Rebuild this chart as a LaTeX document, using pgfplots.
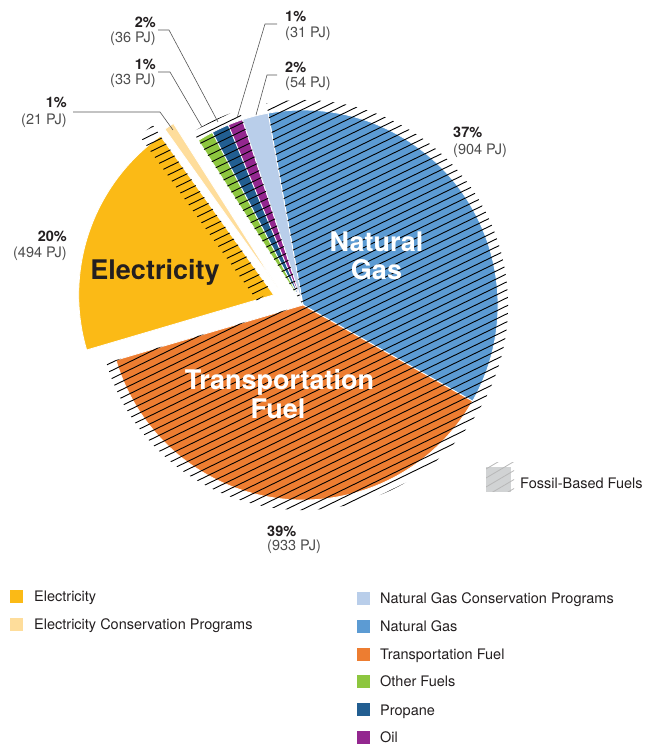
\documentclass[border=0pt]{standalone}
\usepackage{pgfplots}
\pgfplotsset{compat=1.18}
\usepackage{pgfplotstable}
\usepackage{fontspec}
\setmainfont{TeX Gyre Heros}

\definecolor{cEL}{HTML}{FBBA16}
\definecolor{cEC}{HTML}{FEDD9B}
\definecolor{cNC}{HTML}{B9CEEA}
\definecolor{cNG}{HTML}{5C9BD3}
\definecolor{cTR}{HTML}{ED7D31}
\definecolor{cOF}{HTML}{8DC63F}
\definecolor{cPR}{HTML}{225E91}
\definecolor{cOI}{HTML}{93278F}
\definecolor{cFS}{HTML}{D1D3D4}
\definecolor{txt}{HTML}{231F20}
\definecolor{sub}{HTML}{4D4D4D}
\definecolor{lead}{HTML}{555555}

% energy use in PJ, clockwise from the top
\pgfplotstableread{
name value
NaturalGas 904
Transportation 933
Electricity 494
ElecConservation 21
OtherFuels 33
Propane 36
Oil 31
NGConservation 54
}\piedata

\pgfplotstablegetelem{0}{value}\of\piedata \let\vNG\pgfplotsretval
\pgfplotstablegetelem{1}{value}\of\piedata \let\vTR\pgfplotsretval
\pgfplotstablegetelem{2}{value}\of\piedata \let\vEL\pgfplotsretval
\pgfplotstablegetelem{3}{value}\of\piedata \let\vEC\pgfplotsretval
\pgfplotstablegetelem{4}{value}\of\piedata \let\vOF\pgfplotsretval
\pgfplotstablegetelem{5}{value}\of\piedata \let\vPR\pgfplotsretval
\pgfplotstablegetelem{6}{value}\of\piedata \let\vOI\pgfplotsretval
\pgfplotstablegetelem{7}{value}\of\piedata \let\vNC\pgfplotsretval

\pgfmathsetmacro\total{\vNG+\vTR+\vEL+\vEC+\vOF+\vPR+\vOI+\vNC}
\pgfmathsetmacro\k{360/\total}
\pgfmathsetmacro\aNGs{100.3}
\pgfmathsetmacro\aNGe{\aNGs-\vNG*\k}
\pgfmathsetmacro\aTRe{\aNGe-\vTR*\k}
\pgfmathsetmacro\aELe{\aTRe-\vEL*\k}
\pgfmathsetmacro\aECe{\aELe-\vEC*\k}
\pgfmathsetmacro\aOFe{\aECe-\vOF*\k}
\pgfmathsetmacro\aPRe{\aOFe-\vPR*\k}
\pgfmathsetmacro\aOIe{\aPRe-\vOI*\k}
\pgfmathsetmacro\aNCe{\aOIe-\vNC*\k}
\pgfmathsetmacro\mEL{(\aTRe+\aELe)/2}
\pgfmathsetmacro\Ex{303+31*cos(\mEL)}
\pgfmathsetmacro\Ey{440+31*sin(\mEL)}
\def\R{195pt}
\def\RH{205pt}

\newcommand\lbl{\fontsize{14.5}{17}\selectfont}
\newcommand\inlbl{\fontsize{27}{29}\selectfont\bfseries}

\begin{document}
\begin{tikzpicture}
\begin{axis}[width=647pt,height=745pt,scale only axis,
  xmin=0,xmax=647,ymin=0,ymax=745,hide axis,clip=false]
\coordinate (SW) at (axis cs:0,0);
\coordinate (NE) at (axis cs:647,745);
% slices
\tikzset{sl/.style={draw=white,line width=0.8pt}}
\fill[cNG,sl] (axis cs:303,440) -- ++(\aNGe:\R) arc[start angle=\aNGe,end angle=\aNGs,radius=\R] -- cycle;
\fill[cTR,sl] (axis cs:303,440) -- ++(\aTRe:\R) arc[start angle=\aTRe,end angle=\aNGe,radius=\R] -- cycle;
\fill[cEL,sl] (axis cs:\Ex,\Ey) -- ++(\aELe:\R) arc[start angle=\aELe,end angle=\aTRe,radius=\R] -- cycle;
\fill[cEC,sl] (axis cs:278,457) -- ++(\aECe:\R) arc[start angle=\aECe,end angle=\aELe,radius=\R] -- cycle;
\fill[cOF,sl] (axis cs:303,440) -- ++(\aOFe:\R) arc[start angle=\aOFe,end angle=\aECe,radius=\R] -- cycle;
\fill[cPR,sl] (axis cs:303,440) -- ++(\aPRe:\R) arc[start angle=\aPRe,end angle=\aOFe,radius=\R] -- cycle;
\fill[cOI,sl] (axis cs:303,440) -- ++(\aOIe:\R) arc[start angle=\aOIe,end angle=\aPRe,radius=\R] -- cycle;
\fill[cNC,sl] (axis cs:303,440) -- ++(\aNCe:\R) arc[start angle=\aNCe,end angle=\aOIe,radius=\R] -- cycle;
% fossil hatching
\begin{scope}
\clip (axis cs:303,440) -- ++(\aTRe:\RH) arc[start angle=\aTRe,end angle=\aNGs,radius=\RH] -- cycle
      (axis cs:303,440) -- ++(\aOIe:\RH) arc[start angle=\aOIe,end angle=\aECe,radius=\RH] -- cycle
      (axis cs:\Ex,\Ey) ++(\aELe:5pt) -- ++(\aELe:203pt) -- ++(\aELe+90:17pt) -- ++(\aELe:-203pt) -- cycle;
\pgfplotsinvokeforeach{-120,-112,...,680}{
  \draw[black,line width=0.9pt] (axis cs:0,#1) -- (axis cs:647,#1+315.5);
}
\end{scope}
% inner labels
\node[white,font=\inlbl,anchor=base,inner sep=0] at (axis cs:376.5,493) {Natural};
\node[white,font=\inlbl,anchor=base,inner sep=0] at (axis cs:376.5,465) {Gas};
\node[white,font=\inlbl,anchor=base,inner sep=0] at (axis cs:279.5,355) {Transportation};
\node[white,font=\inlbl,anchor=base,inner sep=0] at (axis cs:278,326) {Fuel};
\node[txt,font=\inlbl,anchor=base,inner sep=0] at (axis cs:155,465) {Electricity};
% outer labels
\tikzset{pc/.style={txt,inner sep=0,font=\lbl\bfseries},pj/.style={sub,inner sep=0,font=\lbl}}
\node[pc,anchor=base east] at (axis cs:156,717) {2\%};
\node[pj,anchor=base east] at (axis cs:156,702) {(36 PJ)};
\node[pc,anchor=base east] at (axis cs:156,675) {1\%};
\node[pj,anchor=base east] at (axis cs:156,660) {(33 PJ)};
\node[pc,anchor=base east] at (axis cs:67,637) {1\%};
\node[pj,anchor=base east] at (axis cs:67,620) {(21 PJ)};
\node[pc,anchor=base west] at (axis cs:285,723) {1\%};
\node[pj,anchor=base west] at (axis cs:285,707) {(31 PJ)};
\node[pc,anchor=base west] at (axis cs:285,672) {2\%};
\node[pj,anchor=base west] at (axis cs:285,657) {(54 PJ)};
\node[pc,anchor=base east] at (axis cs:67,503) {20\%};
\node[pj,anchor=base east] at (axis cs:67,487) {(494 PJ)};
\node[pc,anchor=base west] at (axis cs:453,607) {37\%};
\node[pj,anchor=base west] at (axis cs:453,590) {(904 PJ)};
\node[pc,anchor=base west] at (axis cs:267,208) {39\%};
\node[pj,anchor=base west] at (axis cs:267,194) {(933 PJ)};
% leader lines
\tikzset{ld/.style={lead,line width=0.6pt}}
\draw[ld] (axis cs:158,715) -- (axis cs:169,715) -- (axis cs:218,623);
\draw[ld] (axis cs:158,673) -- (axis cs:170,673) -- (axis cs:202,618);
\draw[ld] (axis cs:73,633) -- (axis cs:160,633) -- (axis cs:173,615);
\draw[ld] (axis cs:277,721) -- (axis cs:265,721) -- (axis cs:237,627);
\draw[ld] (axis cs:277,670) -- (axis cs:267,670) -- (axis cs:256,630);
% fossil legend
\fill[cFS] (axis cs:486,253) rectangle (axis cs:511,278);
\begin{scope}
\clip (axis cs:486,253) rectangle (axis cs:514,282);
\pgfplotsinvokeforeach{222,231,...,285}{
  \draw[black!28,line width=0.8pt] (axis cs:486,#1) -- (axis cs:520,#1+20);
}
\end{scope}
\node[txt,font=\lbl,anchor=base west,inner sep=0] at (axis cs:520,256) {Fossil-Based Fuels};
% bottom legend
\tikzset{lg/.style={txt,font=\lbl,anchor=base west,inner sep=0}}
\fill[cEL] (axis cs:10,142) rectangle (axis cs:23,155);
\node[lg] at (axis cs:34,143) {Electricity};
\fill[cEC] (axis cs:10,114) rectangle (axis cs:23,127);
\node[lg] at (axis cs:34,115) {Electricity Conservation Programs};
\fill[cNC] (axis cs:357,139.5) rectangle (axis cs:370,152.5);
\node[lg] at (axis cs:380,141) {Natural Gas Conservation Programs};
\fill[cNG] (axis cs:357,111.5) rectangle (axis cs:370,124.5);
\node[lg] at (axis cs:380,113) {Natural Gas};
\fill[cTR] (axis cs:357,83.5) rectangle (axis cs:370,96.5);
\node[lg] at (axis cs:380,85) {Transportation Fuel};
\fill[cOF] (axis cs:357,56.5) rectangle (axis cs:370,69.5);
\node[lg] at (axis cs:380,58) {Other Fuels};
\fill[cPR] (axis cs:357,28.5) rectangle (axis cs:370,41.5);
\node[lg] at (axis cs:380,30) {Propane};
\fill[cOI] (axis cs:357,0.5) rectangle (axis cs:370,13.5);
\node[lg] at (axis cs:380,2) {Oil};
\end{axis}
\pgfresetboundingbox
\path (SW) rectangle (NE);
\end{tikzpicture}
\end{document}
